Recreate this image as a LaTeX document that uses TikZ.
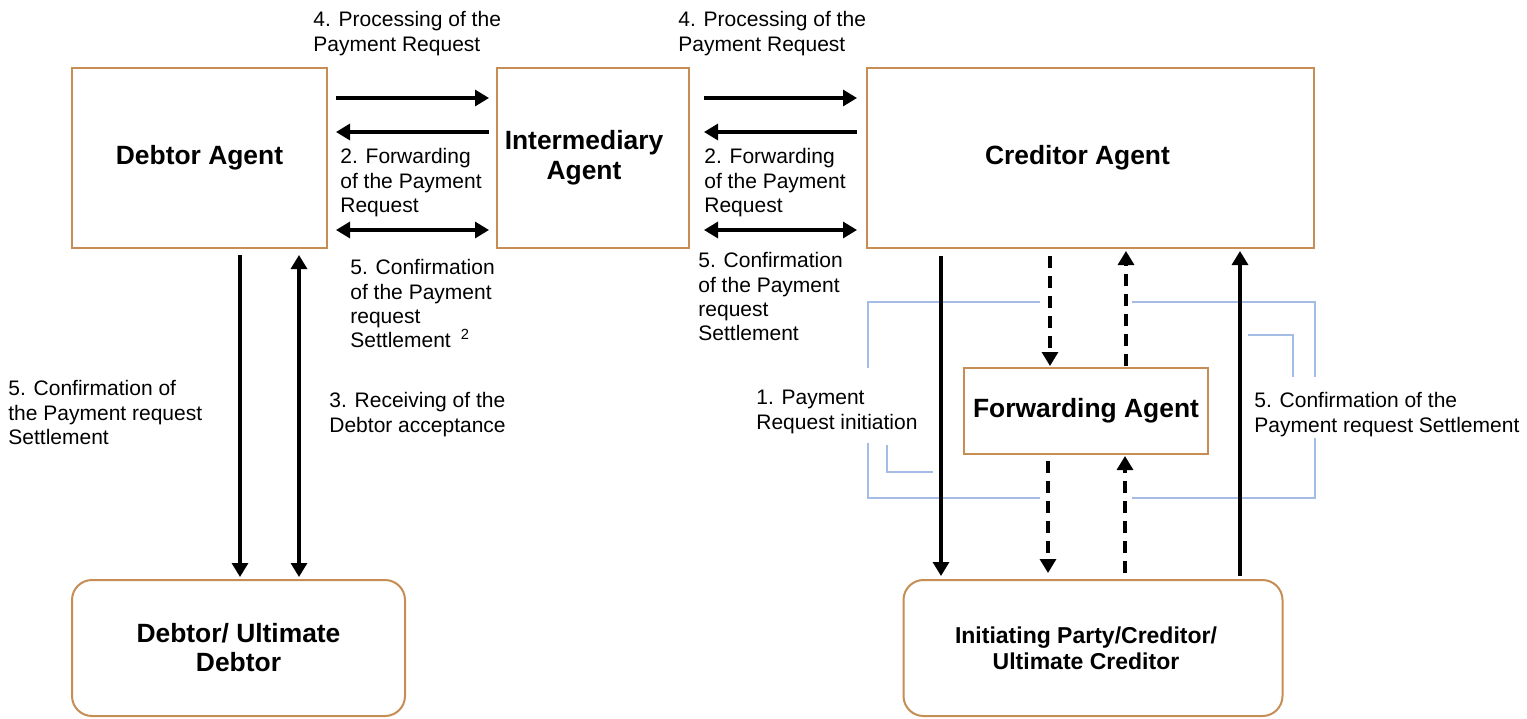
\documentclass[tikz,border=0pt]{standalone}
\usepackage{fontspec}
\setmainfont{Liberation Sans}
\usetikzlibrary{arrows.meta}

\definecolor{boxbrown}{RGB}{198,142,84}
\definecolor{bracketblue}{RGB}{165,189,230}

\tikzset{
    agent/.style={draw=boxbrown, line width=1pt, fill=white, align=center, inner sep=0pt,
        font=\bfseries\fontsize{13.2}{15}\selectfont},
    party/.style={agent, rounded corners=10pt},
    lbl/.style={anchor=north west, align=left, inner sep=0pt, font=\fontsize{10.5}{12.2}\selectfont},
    flow/.style={line width=1.6pt, -{Triangle[width=8pt,length=7pt]}},
    both/.style={flow, {Triangle[width=8pt,length=7pt]}-{Triangle[width=8pt,length=7pt]}},
    dflow/.style={flow, dash pattern=on 6pt off 4pt},
    bracket/.style={draw=bracketblue, line width=0.8pt},
}

\begin{document}
\begin{tikzpicture}[x=0.5pt, y=-0.5pt]
    \useasboundingbox (0,0) rectangle (1527,718);

    % Agentes
    \node[agent, minimum width=127.5pt, minimum height=90pt] (dagent) at (199.5,158) {Debtor Agent};
    \node[agent, minimum width=96pt, minimum height=90pt] (iagent) at (593,158)
        {Intermediary\hspace*{9pt}\\Agent\hspace*{9pt}};
    \node[agent, minimum width=223.5pt, minimum height=90pt] (cagent) at (1090.5,158)
        {Creditor Agent\hspace*{13pt}};
    \node[agent, minimum width=122pt, minimum height=43pt] (fagent) at (1086,411) {Forwarding Agent};

    % Partes
    \node[party, minimum width=166.5pt, minimum height=68pt, font=\bfseries\fontsize{13.2}{14.5}\selectfont]
        (debtor) at (238.5,648) {Debtor/ Ultimate\\Debtor};
    \node[party, minimum width=189.5pt, minimum height=68pt, font=\bfseries\fontsize{11.5}{13}\selectfont]
        (creditor) at (1093,648) {Initiating Party/Creditor/\hspace*{7pt}\\Ultimate Creditor\hspace*{7pt}};

    % Corchetes azules
    \draw[bracket] (1040,302) -- (868,302) -- (868,368);
    \draw[bracket] (868,443) -- (868,498) -- (1040,498);
    \draw[bracket] (887,445) -- (887,472) -- (933,472);
    \draw[bracket] (1132,302) -- (1315,302) -- (1315,377);
    \draw[bracket] (1315,438) -- (1315,498) -- (1132,498);
    \draw[bracket] (1248,335) -- (1293,335) -- (1293,377);

    % Flechas horizontales
    \foreach \a/\b/\s/\e in {dagent/iagent/4pt/3.5pt, iagent/cagent/7pt/4.5pt} {
        \draw[flow, shorten <=\s, shorten >=\e] (\a.east |- 0,98) -- (\b.west |- 0,98);
        \draw[flow, shorten <=\e, shorten >=\s] (\b.west |- 0,132) -- (\a.east |- 0,132);
        \draw[both, shorten <=\s, shorten >=\e] (\a.east |- 0,230) -- (\b.west |- 0,230);
    }

    % Flechas verticales, lado deudor
    \draw[flow, shorten <=3pt, shorten >=1pt] (dagent.south -| 240,0) -- (debtor.north -| 240,0);
    \draw[both, shorten <=3pt, shorten >=1pt] (dagent.south -| 299,0) -- (debtor.north -| 299,0);

    % Flechas verticales, lado acreedor
    \draw[flow, shorten <=3.5pt, shorten >=1.5pt] (cagent.south -| 941,0) -- (creditor.north -| 941,0);
    \draw[dflow, shorten <=3.5pt, shorten >=0.5pt] (cagent.south -| 1050,0) -- (fagent.north -| 1050,0);
    \draw[dflow, shorten <=0.5pt, shorten >=1pt] (fagent.north -| 1126,0) -- (cagent.south -| 1126,0);
    \draw[flow, shorten <=1.5pt, shorten >=1pt] (creditor.north -| 1240,0) -- (cagent.south -| 1240,0);
    \draw[dflow, shorten <=3pt, shorten >=3pt] (fagent.south -| 1048,0) -- (creditor.north -| 1048,0);
    \draw[dflow, shorten <=3pt, shorten >=0.5pt] (creditor.north -| 1125,0) -- (fagent.south -| 1125,0);

    % Etiquetas
    \node[lbl] (proc1) at (313,11) {4. Processing of the\\Payment Request};
    \node[lbl] (proc2) at (678,11) {4. Processing of the\\Payment Request};
    \node[lbl] (fwd1) at (340,148) {2. Forwarding\\of the Payment\\Request};
    \node[lbl] (fwd2) at (704,148) {2. Forwarding\\of the Payment\\Request};
    \node[lbl] (conf1) at (350,259) {5. Confirmation\\of the Payment\\request\\Settlement\hspace{5pt}\textsuperscript{2}};
    \node[lbl] (conf2) at (698,252) {5. Confirmation\\of the Payment\\request\\Settlement};
    \node[lbl] (conf3) at (8,380) {5. Confirmation of\\the Payment request\\Settlement};
    \node[lbl] (recv) at (329,392) {3. Receiving of the\\Debtor acceptance};
    \node[lbl] (init) at (756,390) {1. Payment\\Request initiation};
    \node[lbl] (conf4) at (1254,392) {5. Confirmation of the\\Payment request Settlement};
\end{tikzpicture}
\end{document}
